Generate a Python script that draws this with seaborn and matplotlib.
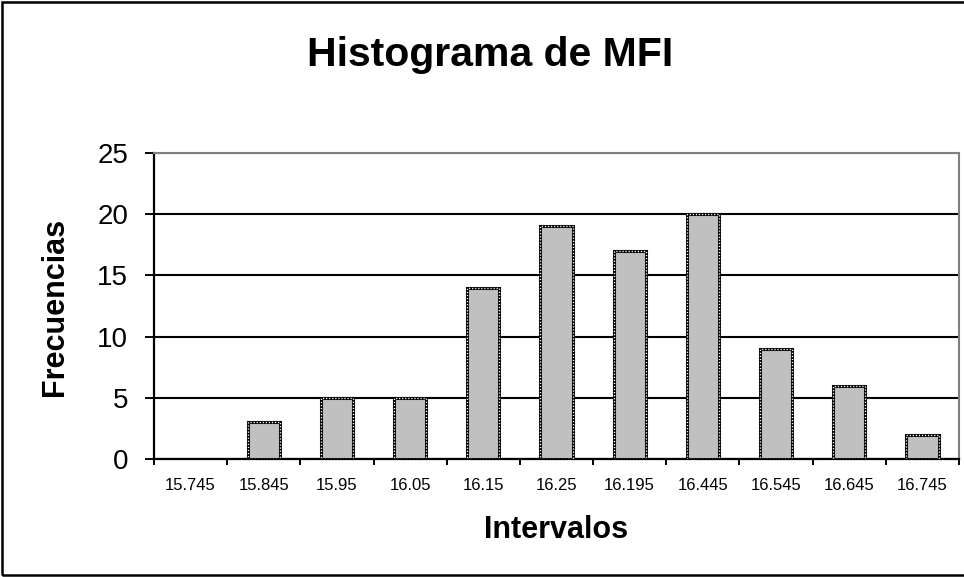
import matplotlib
matplotlib.use("Agg")
import matplotlib.pyplot as plt
import seaborn as sns
import pandas as pd
from matplotlib.patches import Rectangle
from matplotlib.ticker import FixedLocator

intervalos = ["15.745", "15.845", "15.95", "16.05", "16.15", "16.25",
              "16.195", "16.445", "16.545", "16.645", "16.745"]
frecuencias = [0, 3, 5, 5, 14, 19, 17, 20, 9, 6, 2]
y_ticks = [0, 5, 10, 15, 20, 25]

sns.set_theme(style="white")
plt.rcParams["font.family"] = ["Liberation Sans", "DejaVu Sans"]
plt.rcParams.update({"text.color": "black", "axes.labelcolor": "black",
                     "xtick.color": "black", "ytick.color": "black"})

df = pd.DataFrame({"Intervalos": intervalos, "Frecuencias": frecuencias})

W, H = 964, 577
fig = plt.figure(figsize=(W / 100, H / 100), dpi=100)
fig.patch.set_facecolor("white")
ax = fig.add_axes([154 / W, (H - 459) / H, (959 - 154) / W, (459 - 153) / H])

sns.barplot(data=df, x="Intervalos", y="Frecuencias", order=intervalos,
            color="#c0c0c0", width=0.44, saturation=1, ax=ax,
            edgecolor="black", linewidth=2.2, zorder=3)
# speckle the black edge with white dots for a checkered border
for p in list(ax.patches):
    p.set_zorder(3)
    if p.get_height() <= 0:
        p.set_visible(False)
        continue
    ax.add_patch(Rectangle(p.get_xy(), p.get_width(), p.get_height(), fill=False,
                           edgecolor="white", linewidth=1.0,
                           linestyle=(0, (0.9, 1.3)), zorder=4))

ax.set_xlim(-0.5, len(intervalos) - 0.5)
ax.set_ylim(0, 25)
ax.set_yticks(y_ticks)
ax.yaxis.grid(True, color="black", linewidth=1.5, zorder=1)
ax.set_axisbelow(True)

ax.tick_params(axis="y", which="major", length=6.5, width=1.4, color="black",
               direction="out", labelsize=20, left=True, pad=12)
ax.tick_params(axis="x", which="major", length=0, labelsize=12, pad=14)
ax.xaxis.set_minor_locator(FixedLocator([i - 0.5 for i in range(len(intervalos) + 1)]))
ax.tick_params(axis="x", which="minor", length=4, width=1.4, color="black",
               direction="out", bottom=True)

for s in ["left", "bottom"]:
    ax.spines[s].set_color("black")
    ax.spines[s].set_linewidth(1.6)
for s in ["top", "right"]:
    ax.spines[s].set_color("#808080")
    ax.spines[s].set_linewidth(1.5)

ax.set_xlabel("")
ax.set_ylabel("")
fig.text(556 / W, 1 - 530 / H, "Intervalos", fontsize=22, fontweight="bold",
         ha="center", va="center")
fig.text(55 / W, 1 - 307 / H, "Frecuencias", fontsize=22, fontweight="bold",
         ha="center", va="center", rotation=90)
fig.text(490 / W, 1 - 55 / H, "Histograma de MFI", fontsize=29.5, fontweight="bold",
         ha="center", va="center")

# outer chart frame (its right edge lies past the saved area)
fig.patches.append(Rectangle((2 / W, 2 / H), (W + 10) / W, (H - 4) / H,
                             transform=fig.transFigure, fill=False,
                             edgecolor="black", linewidth=1.8))

fig.savefig("out.png", dpi=100)
